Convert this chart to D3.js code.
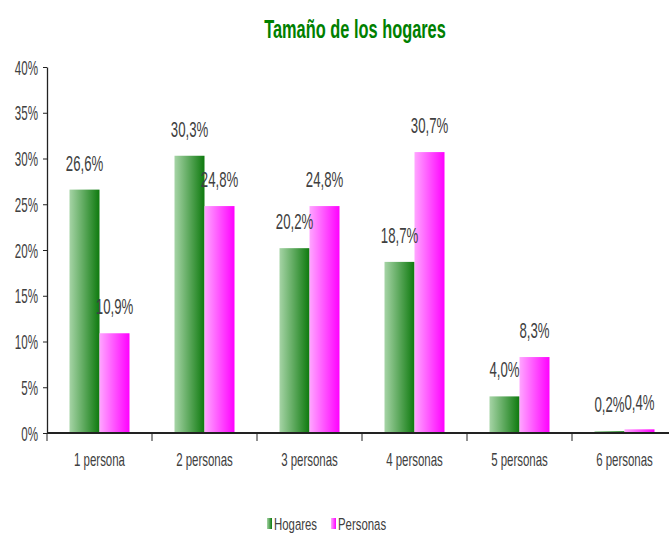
<!DOCTYPE html>
<meta charset="utf-8">
<script src="https://d3js.org/d3.v7.min.js"></script>
<style>
  body { margin: 0; background: #fff; }
  text { font-family: "Liberation Sans", Arial, sans-serif; fill: #404040; }
</style>
<div id="chart"></div>
<script>
// data
var categories = ["1 persona", "2 personas", "3 personas", "4 personas", "5 personas", "6 personas"];
var series = ["Hogares", "Personas"];
var hogares = [26.6, 30.3, 20.2, 18.7, 4.0, 0.2];
var personas = [10.9, 24.8, 24.8, 30.7, 8.3, 0.4];
var yTicks = [0, 5, 10, 15, 20, 25, 30, 35, 40];

var width = 669, height = 534;
var svg = d3.select("#chart").append("svg")
  .attr("width", width)
  .attr("height", height);

// the original text is tall and narrow, so squeeze it horizontally
function narrow(sel, x, y, size, sx) {
  return sel
    .attr("transform", function(d, i) {
      var xx = typeof x == "function" ? x(d, i) : x;
      var yy = typeof y == "function" ? y(d, i) : y;
      return "translate(" + xx + "," + yy + ") scale(" + sx + ",1)";
    })
    .style("font-size", size + "px");
}

// gradients for the bars
var defs = svg.append("defs");
var grads = [
  {id: "g-hog", from: "#a6d4a6", to: "#0e7a0e"},
  {id: "g-per", from: "#ffa6ff", to: "#ff00ff"}
];
grads.forEach(function(g) {
  var lg = defs.append("linearGradient").attr("id", g.id)
    .attr("x1", "0%").attr("x2", "100%").attr("y1", "0%").attr("y2", "0%");
  lg.append("stop").attr("offset", "0%").attr("stop-color", g.from);
  lg.append("stop").attr("offset", "100%").attr("stop-color", g.to);
});

var x = d3.scaleBand()
  .domain(categories)
  .range([47, 677]);

var groupW = x.bandwidth() * 0.5714;
var xSub = d3.scaleBand()
  .domain(series)
  .range([(x.bandwidth() - groupW) / 2, (x.bandwidth() + groupW) / 2]);

var y = d3.scaleLinear()
  .domain([0, 40])
  .range([433, 67]);

// title
narrow(svg.append("text"), 355, 38, 26, 0.63)
  .attr("text-anchor", "middle")
  .style("font-weight", "bold")
  .style("fill", "#008000")
  .text("Tamaño de los hogares");

// Y axis
var yAxis = svg.append("g")
  .attr("transform", "translate(" + x.range()[0] + ",0)")
  .call(d3.axisLeft(y).tickValues(yTicks).tickSize(4).tickSizeOuter(0)
    .tickFormat(function(d) { return d + "%"; }));
yAxis.select(".domain").attr("stroke", "#222").attr("stroke-width", 1.3);
yAxis.selectAll(".tick line").attr("stroke", "#222");
yAxis.selectAll(".tick text").attr("x", null).attr("dy", null);
narrow(yAxis.selectAll(".tick text"), -9, 7, 20, 0.58)
  .style("font-family", "'Liberation Sans', Arial, sans-serif")
  .style("fill", "#404040");

// bars
var rows = categories.map(function(c, i) {
  return {cat: c, values: [{s: "Hogares", v: hogares[i]}, {s: "Personas", v: personas[i]}]};
});

var groups = svg.selectAll(".grp")
  .data(rows)
  .enter().append("g")
  .attr("class", "grp")
  .attr("transform", function(d) { return "translate(" + x(d.cat) + ",0)"; });

groups.selectAll("rect")
  .data(function(d) { return d.values; })
  .enter().append("rect")
  .attr("x", function(d) { return xSub(d.s); })
  .attr("y", function(d) { return y(d.v); })
  .attr("width", xSub.bandwidth())
  .attr("height", function(d) { return y(0) - y(d.v); })
  .attr("fill", function(d) { return d.s == "Hogares" ? "url(#g-hog)" : "url(#g-per)"; });

narrow(groups.selectAll(".lbl")
  .data(function(d) { return d.values; })
  .enter().append("text")
  .attr("class", "lbl"),
  function(d) { return xSub(d.s) + xSub.bandwidth() / 2; },
  function(d) { return y(d.v) - 19; },
  22, 0.6)
  .attr("text-anchor", "middle")
  .text(function(d) { return d.v.toFixed(1).replace(".", ",") + "%"; });

// X axis (line + tick marks at category boundaries)
var xAxis = svg.append("g");
xAxis.append("line")
  .attr("x1", x.range()[0]).attr("x2", width)
  .attr("y1", y(0)).attr("y2", y(0))
  .attr("stroke", "#222").attr("stroke-width", 2);
xAxis.selectAll(".xt")
  .data(categories)
  .enter().append("line")
  .attr("x1", function(d) { return x(d); })
  .attr("x2", function(d) { return x(d); })
  .attr("y1", y(0)).attr("y2", y(0) + 8)
  .attr("stroke", "#222");
narrow(xAxis.selectAll(".xl")
  .data(categories)
  .enter().append("text"),
  function(d) { return x(d) + x.bandwidth() / 2; },
  466, 18.5, 0.62)
  .attr("text-anchor", "middle")
  .text(function(d) { return d; });

// legend
var legend = svg.append("g").attr("transform", "translate(267,518)");
var legendX = [0, 64];
series.forEach(function(s, i) {
  var item = legend.append("g").attr("transform", "translate(" + legendX[i] + ",0)");
  item.append("rect")
    .attr("width", 5).attr("height", 11)
    .attr("fill", i == 0 ? "url(#g-hog)" : "url(#g-per)");
  narrow(item.append("text"), 7, 12, 16.3, 0.7)
    .text(s);
});
</script>
